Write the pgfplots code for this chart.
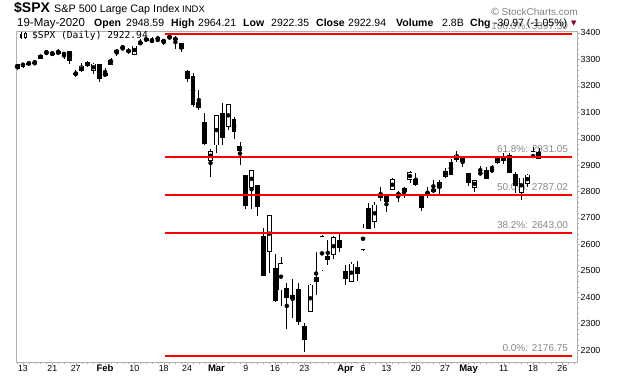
\documentclass[border=0pt]{standalone}
\usepackage{pgfplots}
\pgfplotsset{compat=1.18}
\usepackage{pgfplotstable}
\usepackage{fontspec}
\setmainfont{Liberation Sans}
\newfontfamily\monof{DejaVu Sans Mono}
\newfontfamily\symf{DejaVu Sans}
\definecolor{fibred}{RGB}{255,0,0}
\definecolor{fibtxt}{RGB}{135,135,135}
\definecolor{framegray}{RGB}{175,175,175}
\definecolor{chgred}{RGB}{140,0,40}
\newcommand\mon[1]{{\fontsize{9.5}{10}\selectfont\bfseries #1}}

% daily candles, p = trading day (0 = 10 Jan 2020)
\pgfplotstableread{
p o h l c
0 3281.81 3282.99 3260.86 3265.35
1 3271.13 3288.13 3268.43 3288.13
2 3285.35 3294.25 3277.19 3283.15
3 3282.27 3298.66 3280.69 3289.29
4 3302.97 3317.11 3302.82 3316.81
5 3323.66 3329.88 3318.86 3329.62
6 3321.03 3329.79 3316.61 3320.79
7 3330.02 3337.77 3320.04 3321.75
8 3315.77 3326.88 3301.87 3325.54
9 3333.10 3333.18 3281.53 3295.47
10 3247.16 3258.85 3234.50 3243.63
11 3255.35 3285.78 3253.22 3276.24
12 3289.46 3293.47 3271.89 3273.40
13 3256.45 3285.91 3242.80 3283.66
14 3282.33 3282.33 3214.68 3225.52
15 3235.66 3268.44 3235.66 3248.92
16 3280.61 3306.92 3280.61 3297.59
17 3324.91 3337.58 3313.75 3334.69
18 3344.92 3347.96 3334.39 3345.78
19 3335.54 3341.42 3322.12 3327.71
20 3318.28 3352.26 3317.77 3352.09
21 3365.87 3375.63 3352.72 3357.75
22 3370.50 3381.47 3369.72 3379.45
23 3365.90 3385.09 3360.52 3373.94
24 3378.08 3380.69 3366.15 3380.16
25 3369.04 3375.01 3355.61 3370.29
26 3380.39 3393.52 3378.83 3386.15
27 3380.45 3389.15 3341.02 3373.23
28 3360.50 3360.76 3328.45 3337.75
29 3257.61 3259.81 3214.65 3225.89
30 3238.94 3246.99 3118.77 3128.21
31 3139.90 3182.51 3108.99 3116.39
32 3062.54 3097.07 2977.39 2978.76
33 2916.90 2959.72 2855.84 2954.22
34 2974.28 3090.96 2945.19 3090.23
35 3096.46 3136.72 2976.63 3003.37
36 3045.75 3130.97 3034.38 3130.12
37 3075.70 3083.04 2999.83 3023.94
38 2954.20 2985.93 2901.54 2972.37
39 2863.89 2863.89 2734.43 2746.56
40 2813.48 2882.59 2734.00 2882.23
41 2825.60 2825.60 2707.22 2741.38
42 2630.86 2660.95 2478.86 2480.64
43 2569.99 2711.33 2492.37 2711.02
44 2508.59 2562.98 2380.94 2386.13
45 2425.66 2553.93 2367.04 2529.19
46 2436.50 2453.57 2280.52 2398.10
47 2393.48 2466.97 2319.78 2409.39
48 2431.94 2453.01 2295.56 2304.92
49 2290.71 2300.73 2191.86 2237.40
50 2344.44 2449.71 2344.44 2447.33
51 2457.77 2571.42 2407.53 2475.56
52 2501.29 2637.01 2500.72 2630.07
53 2555.87 2615.91 2520.02 2541.47
54 2558.98 2631.80 2545.28 2626.65
55 2614.69 2641.39 2571.15 2584.59
56 2498.08 2522.75 2447.49 2470.50
57 2458.54 2533.22 2455.79 2526.90
58 2514.92 2538.18 2459.96 2488.65
59 2578.28 2676.85 2574.57 2663.68
60 2738.65 2756.89 2657.67 2659.41
61 2685.00 2760.75 2663.30 2749.98
62 2776.99 2818.57 2762.36 2789.82
63 2782.46 2782.46 2721.17 2761.63
64 2805.10 2851.85 2805.10 2846.06
65 2795.64 2801.88 2761.54 2783.36
66 2812.64 2815.66 2775.95 2799.55
67 2842.43 2879.22 2830.88 2874.56
68 2845.62 2868.98 2820.43 2823.16
69 2784.81 2785.54 2727.10 2736.56
70 2787.89 2815.10 2775.95 2799.31
71 2810.42 2844.90 2794.26 2797.80
72 2812.64 2842.71 2791.76 2836.74
73 2854.65 2887.72 2852.89 2878.48
74 2909.96 2921.15 2860.71 2863.39
75 2918.46 2954.86 2912.16 2939.51
76 2930.91 2930.91 2892.47 2912.43
77 2869.09 2869.09 2821.61 2830.71
78 2815.01 2844.24 2797.85 2842.74
79 2868.88 2898.23 2863.55 2868.44
80 2883.14 2891.11 2847.65 2848.42
81 2878.26 2901.92 2876.48 2881.19
82 2908.83 2932.16 2902.88 2929.80
83 2915.46 2944.25 2903.44 2930.32
84 2939.50 2945.82 2869.59 2870.12
85 2865.86 2874.14 2793.15 2820.00
86 2794.54 2852.80 2766.64 2852.50
87 2829.95 2865.01 2816.78 2863.70
88 2913.86 2968.09 2913.86 2953.91
89 2948.59 2964.21 2922.35 2922.94
}\candles

\begin{document}
\begin{tikzpicture}
\path[use as bounding box] (0pt,0pt) rectangle (620pt,376pt);

\begin{axis}[
    at={(16pt,14pt)}, anchor=south west,
    scale only axis, width=561pt, height=331pt,
    xmin=-0.19, xmax=95.5,
    ymin=2154.6, ymax=3407.4,
    clip mode=individual,
    axis line style={framegray},
    tick align=outside,
    xtick pos=left, ytick pos=right, yticklabel pos=right,
    xtick={1,6,10,15,20,25,29,34,39,44,49,56,59,63,68,73,77,83,88,93},
    xticklabels={13,21,27,\mon{Feb},10,18,24,\mon{Mar},9,16,23,\mon{Apr},6,13,20,27,\mon{May},11,18,26},
    minor xtick={0,...,95},
    ytick={2200,2300,...,3400},
    minor y tick num=4,
    major tick length=3pt, minor tick length=1.5pt,
    tick style={framegray},
    ticklabel style={font=\fontsize{8.8}{10}\selectfont, text=black},
    xticklabel style={anchor=base, yshift=-6pt},
    yticklabel style={inner sep=0.5pt},
    /pgf/number format/assume math mode=true,
    /pgf/number format/1000 sep={},
]

% retracement labels (behind the candles)
\node[anchor=base east, inner sep=0, yshift=4.3pt, text=fibtxt, font=\fontsize{10}{12}\selectfont] at (axis cs:94,3397.30) {100.0\%: 3397.30};
\node[anchor=base east, inner sep=0, yshift=4.3pt, text=fibtxt, font=\fontsize{10}{12}\selectfont] at (axis cs:94,2931.05) {61.8\%: 2931.05};
\node[anchor=base east, inner sep=0, yshift=4.3pt, text=fibtxt, font=\fontsize{10}{12}\selectfont] at (axis cs:94,2787.02) {50.0\%: 2787.02};
\node[anchor=base east, inner sep=0, yshift=4.3pt, text=fibtxt, font=\fontsize{10}{12}\selectfont] at (axis cs:94,2643.00) {38.2\%: 2643.00};
\node[anchor=base east, inner sep=0, yshift=4.3pt, text=fibtxt, font=\fontsize{10}{12}\selectfont] at (axis cs:94,2176.75) {0.0\%: 2176.75};

% wicks: low to high
\addplot[only marks, mark=none, forget plot,
    error bars/.cd, y dir=both, y explicit, error mark=none,
    error bar style={draw=black, line width=0.8pt}]
  table[x=p, y expr=(\thisrow{h}+\thisrow{l})/2, y error expr=(\thisrow{h}-\thisrow{l})/2] {\candles};
% bodies: open to close, black
\addplot[only marks, mark=none, forget plot,
    error bars/.cd, y dir=both, y explicit, error mark=none,
    error bar style={draw=black, line width=4.9pt}]
  table[x=p, y expr=(\thisrow{o}+\thisrow{c})/2, y error expr={max(abs(\thisrow{c}-\thisrow{o})/2,2)}] {\candles};
% hollow inside of the rising candles
\addplot[only marks, mark=none, forget plot,
    error bars/.cd, y dir=both, y explicit, error mark=none,
    error bar style={draw=white, line width=3.2pt}]
  table[x=p, y expr=(\thisrow{o}+\thisrow{c})/2, y error expr={max((\thisrow{c}-\thisrow{o})/2-3,0)}] {\candles};

% Fibonacci retracement levels
\addplot[fibred, line width=2pt] coordinates {(25.3,3397.30) (94.7,3397.30)};
\addplot[fibred, line width=2pt] coordinates {(25.3,2931.05) (94.7,2931.05)};
\addplot[fibred, line width=2pt] coordinates {(25.3,2787.02) (94.7,2787.02)};
\addplot[fibred, line width=2pt] coordinates {(25.3,2643.00) (94.7,2643.00)};
\addplot[fibred, line width=2pt] coordinates {(25.3,2176.75) (94.7,2176.75)};
\end{axis}

% header
\node[anchor=base west, inner sep=0, font=\fontsize{14}{15}\selectfont\bfseries] at (14pt,363.5pt) {\$SPX};
\node[anchor=base west, inner sep=0, font=\fontsize{10.8}{13}\selectfont] at (54pt,363.5pt) {S\&P 500 Large Cap Index};
\node[anchor=base west, inner sep=0, font=\fontsize{9.5}{12}\selectfont] at (182pt,363.5pt) {INDX};
\node[anchor=base east, inner sep=0, text=gray, font=\fontsize{10}{12}\selectfont] at (578pt,361pt) {\symf ©\,\rmfamily StockCharts.com};

\begin{scope}[every node/.style={anchor=base west, inner sep=0, font=\fontsize{10.5}{12}\selectfont}]
\node at (17pt,349.5pt) {\fontsize{11.5}{12}\selectfont 19-May-2020};
\node at (94pt,349.5pt) {\bfseries Open};
\node at (126pt,349.5pt) {2948.59};
\node at (171pt,349.5pt) {\bfseries High};
\node at (198pt,349.5pt) {2964.21};
\node at (243pt,349.5pt) {\bfseries Low};
\node at (271pt,349.5pt) {2922.35};
\node at (316pt,349.5pt) {\bfseries Close};
\node at (348pt,349.5pt) {2922.94};
\node at (396pt,349.5pt) {\bfseries Volume};
\node at (442pt,349.5pt) {2.8B};
\node at (470pt,349.5pt) {\bfseries Chg};
\node at (494pt,349.5pt) {-30.97 (-1.05\%)};
\node[text=chgred] at (571pt,350.5pt) {\symf\fontsize{7}{8}\selectfont ▼};
\end{scope}

% inset legend
\fill[black] (20pt,338.5pt) rectangle (22.4pt,342.5pt);
\draw[black, line width=0.6pt] (21.2pt,337.5pt) -- (21.2pt,344pt);
\draw[black, line width=0.6pt] (24.6pt,338.5pt) rectangle (26.6pt,342.5pt);
\draw[black, line width=0.6pt] (25.6pt,337pt) -- (25.6pt,338.5pt) (25.6pt,342.5pt) -- (25.6pt,344.5pt);
\node[anchor=base west, inner sep=0, font=\monof\fontsize{9.6}{11}\selectfont] at (32pt,337.5pt) {\$SPX (Daily) 2922.94};
\end{tikzpicture}
\end{document}
